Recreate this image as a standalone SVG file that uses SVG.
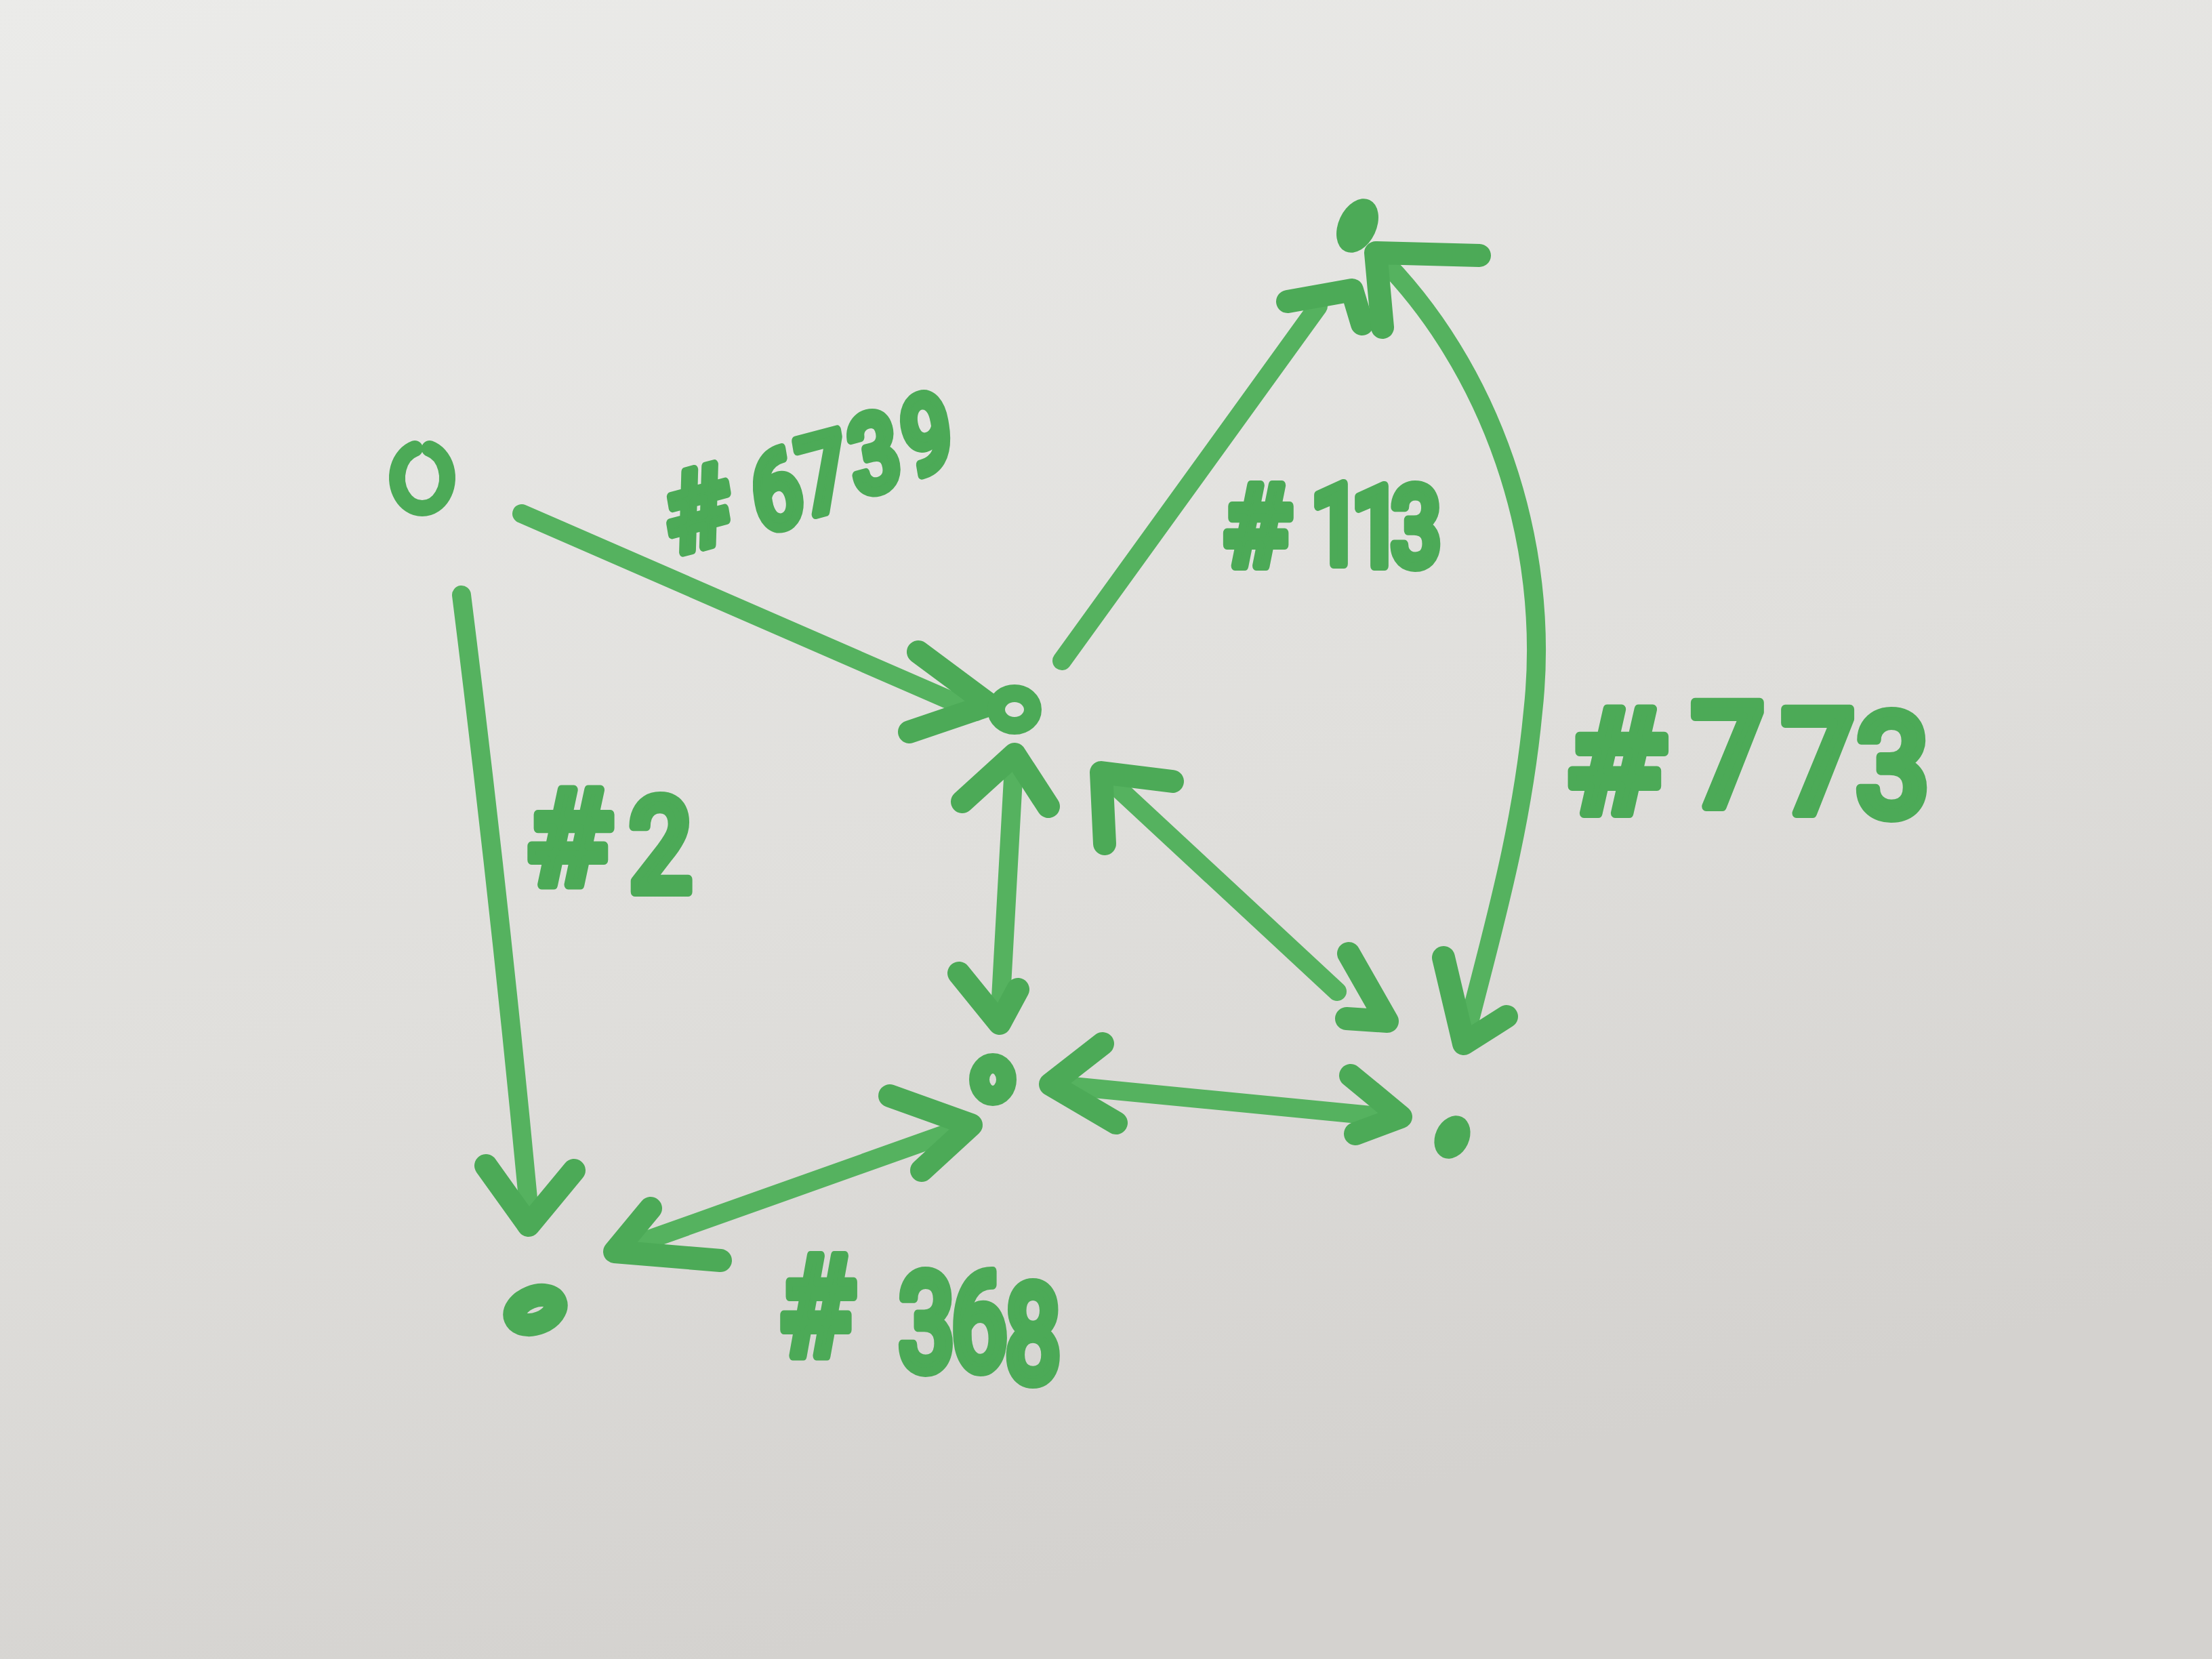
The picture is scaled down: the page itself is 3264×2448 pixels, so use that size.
<svg xmlns="http://www.w3.org/2000/svg" width="3264" height="2448" viewBox="0 0 3264 2448">
<defs>
<linearGradient id="paper" x1="0" y1="0" x2="0.35" y2="1">
<stop offset="0" stop-color="#ebebe9"/>
<stop offset="0.6" stop-color="#e0dfdc"/>
<stop offset="1" stop-color="#d4d2cf"/>
</linearGradient>
<style>
.ln{fill:none;stroke:#55b25f;stroke-width:28;stroke-linecap:round;stroke-linejoin:round}
.hd{fill:none;stroke:#4caa57;stroke-width:34;stroke-linecap:round;stroke-linejoin:round}
.ring{fill:none;stroke:#4caa57;stroke-linecap:round}
.dot{fill:#4caa57}
.lbl{font-family:Roboto,"Liberation Sans",Arial,sans-serif;font-weight:500;text-anchor:middle;fill:#4caa57;stroke:#4caa57;stroke-width:14;stroke-linejoin:round;stroke-linecap:round}
.hash{font-family:"DejaVu Sans",sans-serif;font-weight:bold}
</style>
</defs>
<rect width="3264" height="2448" fill="url(#paper)"/>

<g id="connectors">
<g id="e-A-B"><path class="ln" d="M770,758 L1440,1050"/><path class="hd" d="M1355,962 L1460,1040 L1342,1080"/></g>
<g id="e-A-D"><path class="ln" d="M681,878 Q740,1350 782,1800"/><path class="hd" d="M717,1720 L780,1808 L847,1727"/></g>
<g id="e-B-C"><path class="ln" d="M1567,975 L1945,452"/><path class="hd" d="M1900,445 L1995,428 L2010,478"/></g>
<g id="e-C-F"><path class="ln" d="M2030,373 C2200,540 2290,800 2262,1050 C2245,1230 2200,1380 2165,1520"/><path class="hd" d="M2183,377 L2030,373 L2040,483"/><path class="hd" d="M2130,1413 L2160,1540 L2223,1500"/></g>
<g id="e-B-E"><path class="ln" d="M1497,1113 L1475,1508"/><path class="hd" d="M1420,1183 L1497,1113 L1547,1190"/><path class="hd" d="M1415,1436 L1475,1510 L1502,1460"/></g>
<g id="e-B-F"><path class="ln" d="M1625,1140 L1973,1463"/><path class="hd" d="M1730,1153 L1625,1140 L1630,1245"/><path class="hd" d="M1990,1407 L2047,1507 L1987,1503"/></g>
<g id="e-E-F"><path class="ln" d="M1552,1600 Q1800,1625 2065,1650"/><path class="hd" d="M1627,1540 L1550,1600 L1647,1657"/><path class="hd" d="M1993,1587 L2067,1648 L2000,1673"/></g>
<g id="e-D-E"><path class="ln" d="M907,1847 L1433,1660"/><path class="hd" d="M960,1783 L907,1847 L1063,1860"/><path class="hd" d="M1313,1617 L1433,1660 L1360,1727"/></g>
</g>

<g id="labels">
<text class="lbl" font-size="160" transform="scale(0.8 1)" x="1302 1445 1531 1625 1722" y="820 787 763 733 705" rotate="-12 -12 -12 -12 -12"><tspan class="hash">#</tspan>6739</text>
<text class="lbl" font-size="195" transform="scale(0.85 1)" x="991 1147" y="1305 1316"><tspan class="hash">#</tspan>2</text>
<text class="lbl" font-size="165" transform="scale(0.8 1)" x="2321 2464 2539 2612" y="835 832 835 835"><tspan class="hash">#</tspan>113</text>
<text class="lbl" font-size="215" transform="scale(0.9 1)" x="2653 2833 2981 3103" y="1200 1190 1200 1205"><tspan class="hash">#</tspan>773</text>
<text class="lbl" font-size="205" transform="scale(0.72 1)" x="1678 1899 2007 2117" y="2000 2023 2022 2040"><tspan class="hash">#</tspan>368</text>
</g>

<g id="node-A"><path class="ring" stroke-width="24" d="M612,662 A37,45 0 1 0 634,662"/></g>
<g id="node-B"><ellipse class="ring" stroke-width="26" cx="1497" cy="1047" rx="27" ry="24"/></g>
<g id="node-C"><ellipse class="dot" cx="2003" cy="333" rx="28" ry="42" transform="rotate(25 2003 333)"/></g>
<g id="node-D"><ellipse class="ring" stroke-width="34" cx="790" cy="1933" rx="32" ry="20" transform="rotate(-22 790 1933)"/></g>
<g id="node-E"><ellipse class="ring" stroke-width="30" cx="1465" cy="1593" rx="20" ry="24"/></g>
<g id="node-F"><ellipse class="dot" cx="2143" cy="1678" rx="25" ry="33" transform="rotate(25 2143 1678)"/></g>
</svg>
